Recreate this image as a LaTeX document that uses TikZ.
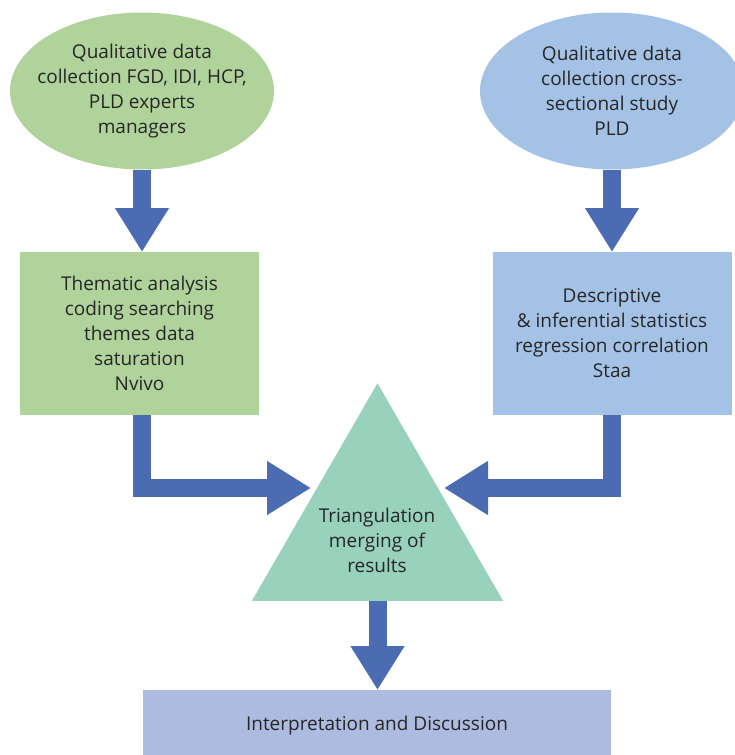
\documentclass[tikz,border=0pt]{standalone}
\usepackage{fontspec}
\setmainfont{Open Sans}
\usepackage{xcolor}
\usetikzlibrary{arrows.meta, shapes.geometric, calc}

\definecolor{leafgreen}{HTML}{B0D39C}
\definecolor{skyblue}{HTML}{A3C2E6}
\definecolor{arrowblue}{HTML}{4B6CB3}
\definecolor{mint}{HTML}{98D1BC}
\definecolor{lavender}{HTML}{ADBBE0}
\definecolor{inkgray}{HTML}{262626}

\begin{document}
\begin{tikzpicture}[x=1pt, y=-1pt,
        every node/.style={text=inkgray, font=\fontsize{19}{25}\selectfont, align=center, inner sep=0pt, outer sep=0pt},
        oval/.style={ellipse, minimum width=264pt, minimum height=157pt},
        panel/.style={rectangle, minimum width=239pt, minimum height=163pt},
        bigarrow/.style={draw=arrowblue, line width=18pt, -{Triangle[width=51pt, length=44pt]}}]
        % Frame
        \useasboundingbox (0,0) rectangle (735,755);
        \clip (0,0) rectangle (735,755);

        % Data collection
        \node[oval, fill=leafgreen] (qualL) at (142,91) {};
        \node (qualLtext) at (qualL.center) {Qualitative data\\collection FGD, IDI, HCP,\\PLD experts\\managers};
        \node[oval, fill=skyblue] (qualR) at (612,91) {};
        \node (qualRtext) at (qualR.center) {Qualitative data\\collection cross-\\sectional study\\PLD};

        % Analysis
        \node[panel, fill=leafgreen] (themes) at (139.5,333.5) {Thematic analysis\\coding searching\\themes data\\saturation\\Nvivo};
        \node[panel, fill=skyblue] (stats) at (612,333.5) {Descriptive\\\& inferential statistics\\regression correlation\\Staa};

        % Triangulation
        \node[regular polygon, regular polygon sides=3, minimum size=290pt, fill=mint] (tri) at (377.5,528.3) {};
        \node (trilabel) at (377,540) {Triangulation\\merging of\\results};
        \coordinate (triInL) at (311,488);
        \coordinate (triInR) at (444,488);

        % Result
        \node[fill=lavender, minimum width=468pt, minimum height=65pt] (interp) at (377,722.5) {};
        \node (interptext) at (377,726) {Interpretation and Discussion};

        % Block arrows
        \draw[bigarrow] (qualL.south) -- (qualL.south |- themes.north);
        \draw[bigarrow] (qualR.south) -- (qualR.south |- stats.north);
        \draw[bigarrow] ([xshift=2.5pt]themes.south) |- (triInL);
        \draw[bigarrow] (stats.south) |- (triInR);
        \draw[bigarrow] (tri.south) -- (tri.south |- interp.north);
    \end{tikzpicture}
\end{document}
